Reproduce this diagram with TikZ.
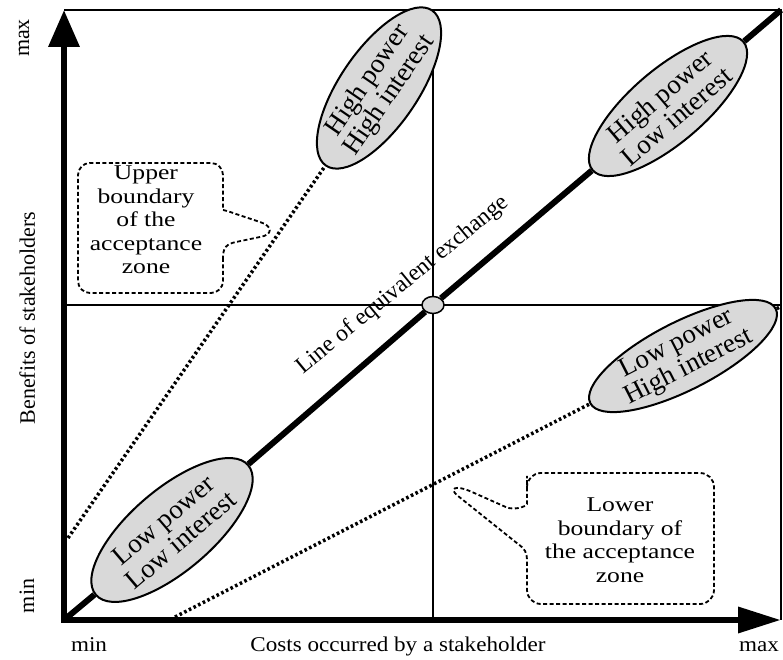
\documentclass[tikz,border=0pt]{standalone}
\usepackage{fontspec}
\setmainfont{Liberation Serif}
\usetikzlibrary{arrows.meta,shapes.geometric,backgrounds}
\begin{document}
\begin{tikzpicture}[x=1pt,y=1pt,
  axisline/.style={line width=6.5pt, line cap=rect},
  frameline/.style={line width=2pt},
  midline/.style={line width=2.2pt},
  diagline/.style={line width=6pt},
  dotline/.style={line width=3.5pt, dash pattern=on 2.6pt off 2.6pt},
  callout/.style={line width=1.8pt, dash pattern=on 4pt off 2.5pt},
  stake/.style={ellipse, draw, line width=2pt, fill=black!15, inner sep=0pt},
  staketext/.style={align=center, inner sep=0pt, font=\fontsize{27}{26.5}\selectfont},
  axlabel/.style={font=\fontsize{22}{24}\selectfont},
  xlabel/.style={font=\fontsize{21}{24}\selectfont, anchor=base, xscale=1.1},
  calltext/.style={align=center, font=\fontsize{21}{23.5}\selectfont, xscale=1.22},
]
\useasboundingbox (0,0) rectangle (783,660);

% frame and axis points
\coordinate (O) at (64,40);
\coordinate (ytip) at (64,650);
\coordinate (xtip) at (781,40);
\coordinate (tl) at (64,650);
\coordinate (tr) at (781,650);
\coordinate (mt) at (433,650);
\coordinate (mb) at (433,40);
\coordinate (ml) at (64,355);
\coordinate (mr) at (781,355);
% ends of the acceptance-zone boundaries
\coordinate (ub) at (68,122);
\coordinate (lb) at (175,43);
\coordinate (le) at (780,353);

% stakeholder groups
\node[stake, rotate=40.4, minimum width=200pt, minimum height=82pt] (ll) at (172,130) {};
\node[staketext, rotate=40.4] (ll-t) at (ll.center) {Low power\\Low interest};
\node[stake, rotate=40.4, minimum width=198pt, minimum height=74pt] (hl) at (668,554) {};
\node[staketext, rotate=40.4] (hl-t) at (hl.center) {High power\\Low interest};
\node[stake, rotate=55.6, minimum width=188pt, minimum height=78pt] (hh) at (379,572) {};
\node[staketext, rotate=55.6] (hh-t) at (hh.center) {High power\\High interest};
\node[stake, rotate=27, minimum width=208pt, minimum height=68pt] (lh) at (683,304) {};
\node[staketext, rotate=27] (lh-t) at (lh.center) {Low power\\High interest};
\node[ellipse, draw, fill=black!15, line width=1.5pt, minimum width=22pt,
  minimum height=17pt, inner sep=0pt] (eq) at (433,355) {};

\node[font=\fontsize{23.5}{25}\selectfont, rotate=39.5] (lee) at (403,375) {Line of equivalent exchange};

% axis labels
\node[axlabel, rotate=90, anchor=base] (ymax) at (29,622) {max};
\node[axlabel, rotate=90, anchor=base] (ymin) at (34,64) {min};
\node[axlabel, rotate=90, anchor=base] (ylab) at (35,342) {Benefits of stakeholders};
\node[xlabel] (xmin) at (89,8) {min};
\node[xlabel] (xmax) at (759,8) {max};
\node[xlabel] (xlab) at (398,8) {Costs occurred by a stakeholder};

% callouts
\node[calltext] (ut) at (146,440) {Upper\\boundary\\of the\\acceptance\\zone};
\draw[callout] (223,402) [rounded corners=12pt] -- (223,367) -- (78,367) -- (78,497)
  -- (223,497) -- (223,462) [sharp corners]
  .. controls (223,450) and (228,449) .. (236,446) -- (260,438)
  .. controls (273,434) and (273,425) .. (260,423) -- (236,418)
  .. controls (226,416) and (223,412) .. cycle;

\node[calltext] (lt) at (620,120) {Lower\\boundary of\\the acceptance\\zone};
\draw[callout] (527,98) [rounded corners=14pt] -- (527,56) -- (714,56) -- (714,187)
  -- (527,187) -- (527,170) [sharp corners]
  .. controls (527,155) and (520,150) .. (508,152) -- (472,168)
  .. controls (454,176) and (449,171) .. (458,164) -- (518,116)
  .. controls (525,111) and (527,108) .. cycle;

\begin{scope}[on background layer]
  \draw[frameline] (tl) -- (tr) -- (xtip);
  \draw[midline] (mt) -- (mb);
  \draw[midline] (ml) -- (mr);
  \draw[dotline] (ub) -- (hh);
  \draw[dotline] (lb) -- (lh);
  \draw[dotline] (lh) -- (le);
  \draw[diagline] (O) -- (ll);
  \draw[diagline] (ll) -- (eq);
  \draw[diagline] (eq) -- (hl);
  \draw[diagline] (hl) -- (tr);
  \draw[axisline, -{Triangle[length=37pt,width=30pt]}] (O) -- (ytip);
  \draw[axisline, -{Triangle[length=43pt,width=25pt]}] (O) -- (xtip);
\end{scope}
\end{tikzpicture}
\end{document}
